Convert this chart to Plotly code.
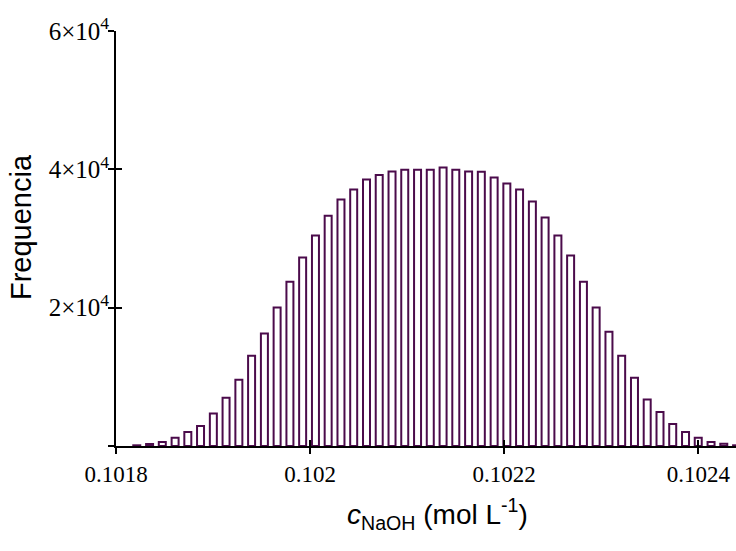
import plotly.graph_objects as go

# Histogram of simulated NaOH concentrations (bin centres, mol/L) and counts
bin_centers = [
    0.1018214, 0.1018346, 0.1018477, 0.1018609, 0.1018740, 0.1018871,
    0.1019003, 0.1019134, 0.1019266, 0.1019397, 0.1019529, 0.1019660,
    0.1019792, 0.1019923, 0.1020055, 0.1020186, 0.1020318, 0.1020449,
    0.1020581, 0.1020712, 0.1020844, 0.1020975, 0.1021107, 0.1021238,
    0.1021370, 0.1021501, 0.1021633, 0.1021764, 0.1021896, 0.1022027,
    0.1022158, 0.1022290, 0.1022421, 0.1022553, 0.1022684, 0.1022816,
    0.1022947, 0.1023079, 0.1023210, 0.1023342, 0.1023473, 0.1023605,
    0.1023736, 0.1023868, 0.1023999, 0.1024131, 0.1024262, 0.1024394,
]
counts = [
    100, 290, 580, 1210, 2030, 2900, 4690, 6960, 9570,
    13040, 16280, 20040, 23760, 27240, 30430, 33280, 35650, 37090, 38540,
    39170, 39700, 39940, 39940, 39940, 40280, 39940, 39700, 39650,
    38830, 37960, 37090, 35360, 33040, 30430, 27530, 23760, 20040,
    16520, 13040, 9850, 6710, 4930, 3190, 2030, 1210, 580, 340,
    100,
]

x_tickvals = [0.1018, 0.1020, 0.1022, 0.1024]
x_ticktext = ["0.1018", "0.102", "0.1022", "0.1024"]
y_tickvals = [0, 20000, 40000, 60000]
y_ticktext = ["", "2×10<sup>4</sup>", "4×10<sup>4</sup>", "6×10<sup>4</sup>"]

x_range = [0.1018, 0.1024388]
y_range = [0, 60000]

BAR_COLOR = "#4b0b4b"
SERIF = "Liberation Serif, Times New Roman, serif"
SANS = "Liberation Sans, Arial, sans-serif"

fig = go.Figure()
fig.add_trace(go.Bar(
    x=bin_centers, y=counts,
    marker=dict(color="white", line=dict(color=BAR_COLOR, width=2)),
    showlegend=False,
))
# empty trace that carries the overlay axes used for the inward half of each tick
fig.add_trace(go.Scatter(x=[None], y=[None], xaxis="x2", yaxis="y2",
                         showlegend=False, hoverinfo="skip"))

axis_common = dict(showgrid=False, zeroline=False, ticklen=6, tickwidth=2,
                   tickcolor="black")

fig.update_layout(
    width=736, height=551,
    margin=dict(l=116, r=0, t=31, b=105),
    paper_bgcolor="white", plot_bgcolor="white",
    bargap=0.45,
    xaxis=dict(range=x_range, tickvals=x_tickvals, ticktext=x_ticktext,
               ticks="outside", showline=True, linecolor="black", linewidth=2,
               tickfont=dict(family=SERIF, size=23, color="black"),
               **axis_common),
    yaxis=dict(range=y_range, tickvals=y_tickvals, ticktext=y_ticktext,
               ticks="outside", showline=True, linecolor="black", linewidth=2,
               tickfont=dict(family=SERIF, size=25, color="black"),
               ticklabelstandoff=-6,
               **axis_common),
    xaxis2=dict(range=x_range, tickvals=x_tickvals, ticks="inside",
                showticklabels=False, overlaying="x", anchor="y",
                showline=False, **axis_common),
    yaxis2=dict(range=y_range, tickvals=y_tickvals, ticks="inside",
                showticklabels=False, overlaying="y", anchor="x",
                showline=False, **axis_common),
    annotations=[
        dict(text="Frequencia", xref="paper", yref="paper",
             x=-0.152, y=0.527, xanchor="center", yanchor="middle",
             textangle=-90, showarrow=False,
             font=dict(family=SANS, size=29, color="black")),
        dict(text="<i>c</i><sub>NaOH</sub> (mol L<sup>-1</sup>)",
             xref="paper", yref="paper", x=0.519, y=-0.164,
             xanchor="center", yanchor="middle", showarrow=False,
             font=dict(family=SANS, size=28, color="black")),
    ],
)

fig.write_html("out.html")
